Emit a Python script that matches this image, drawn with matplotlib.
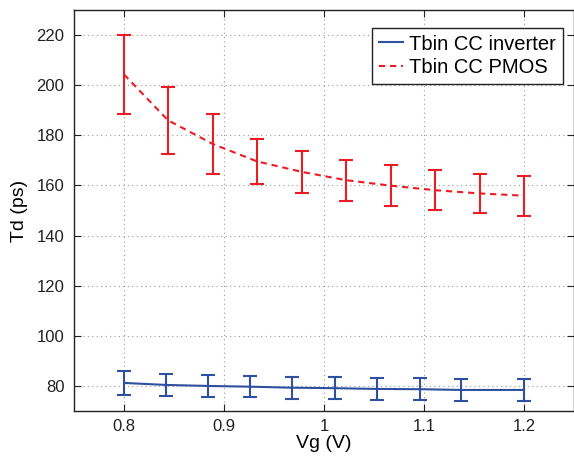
import numpy as np
import matplotlib
matplotlib.use("Agg")
import matplotlib.pyplot as plt

plt.rcParams['font.family'] = ['Liberation Sans', 'DejaVu Sans']

# Tbin CC PMOS (rote, gestrichelte Kurve)
vg_pmos = [0.8, 0.844, 0.889, 0.933, 0.978, 1.022, 1.067, 1.111, 1.156, 1.2]
td_pmos = [204.3, 186.0, 176.5, 169.6, 165.4, 162.1, 159.9, 158.1, 156.8, 155.9]
err_pmos = [15.6, 13.3, 11.9, 9.0, 8.5, 8.2, 8.1, 8.1, 7.9, 7.9]

# Tbin CC inverter (blaue Kurve)
vg_inv = [0.8, 0.842, 0.884, 0.926, 0.968, 1.011, 1.053, 1.096, 1.137, 1.2]
td_inv = [81.2, 80.4, 80.0, 79.7, 79.3, 79.1, 78.8, 78.7, 78.4, 78.4]
err_inv = [4.8, 4.5, 4.3, 4.3, 4.4, 4.5, 4.4, 4.5, 4.4, 4.5]

blue = '#2F4FA0'
red = '#ED1C24'

W, H = 574, 461
fig = plt.figure(figsize=(W / 100, H / 100), dpi=100)
ax = fig.add_axes([74 / W, 50 / H, 500 / W, 401 / H])

ax.plot(vg_inv, td_inv, color=blue, lw=1.5, label='Tbin CC inverter')
ax.errorbar(vg_inv, td_inv, yerr=err_inv, fmt='none', ecolor=blue,
            elinewidth=1.5, capsize=5.2, capthick=1.5)
ax.plot(vg_pmos, td_pmos, color=red, lw=1.5, ls=(0, (3, 2.3)),
        label='Tbin CC PMOS')
ax.errorbar(vg_pmos, td_pmos, yerr=err_pmos, fmt='none', ecolor=red,
            elinewidth=1.5, capsize=4.7, capthick=1.5)

ax.set_xlim(0.75, 1.25)
ax.set_ylim(70, 230)
ax.set_xticks([0.8, 0.9, 1.0, 1.1, 1.2])
ax.set_xticklabels(['0.8', '0.9', '1', '1.1', '1.2'])
ax.set_yticks(np.arange(80, 221, 20))
ax.tick_params(direction='in', length=5, top=True, right=True,
               labelsize=12, colors='#222222')
ax.tick_params(axis='x', pad=6)
ax.tick_params(axis='y', pad=7)
ax.grid(True, linestyle=(0, (1, 3)), color='#999999', lw=0.8)
for s in ax.spines.values():
    s.set_linewidth(1.0)
    s.set_color('#222222')

ax.set_xlabel('Vg (V)', fontsize=14, labelpad=0.5)
ax.set_ylabel('Td (ps)', fontsize=14, labelpad=6)

leg = ax.legend(loc='upper right', bbox_to_anchor=(562.5 / W, 1 - 27.5 / H),
                bbox_transform=fig.transFigure, borderaxespad=0,
                fontsize=14.5, fancybox=False, framealpha=1,
                edgecolor='#222222', handlelength=1.15, borderpad=0.35,
                labelspacing=0.2, handletextpad=0.3)
leg.get_frame().set_linewidth(1.0)

fig.savefig('out.png', dpi=100)
